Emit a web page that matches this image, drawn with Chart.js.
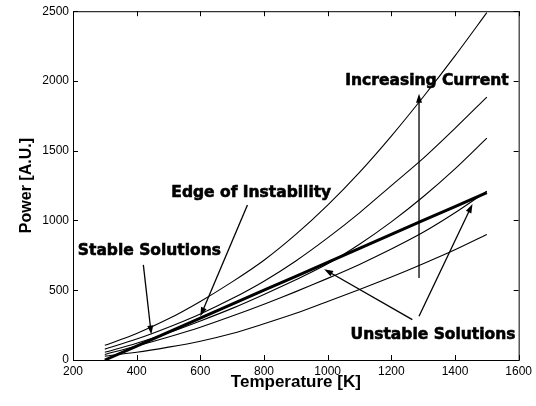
<!DOCTYPE html>
<html>
<head>
<meta charset="utf-8">
<script src="https://cdn.jsdelivr.net/npm/chart.js@4/dist/chart.umd.min.js"></script>
<style>
  html, body { margin: 0; padding: 0; background: #fff; }
</style>
</head>
<body>
<canvas id="chart" width="536" height="406"></canvas>
<script>
// values (temperature in K, power in A.U.)
const temperature = [300, 400, 500, 600, 700, 800, 900, 1000, 1100, 1200, 1300, 1400, 1500];
const current1 = [105, 190, 295, 420, 560, 715, 900, 1110, 1345, 1605, 1885, 2180, 2490];
const current2 = [78, 150, 235, 330, 440, 565, 710, 875, 1055, 1250, 1445, 1660, 1884];
const current3 = [55, 120, 195, 280, 370, 470, 575, 690, 830, 990, 1170, 1370, 1590];
const current4 = [40, 100, 165, 235, 315, 400, 490, 585, 685, 795, 915, 1055, 1210];
const current5 = [28, 55, 92, 135, 190, 260, 335, 420, 505, 595, 690, 790, 900];
const edgeOfInstability = [0, 100, 200, 300, 400, 500, 600, 700, 800, 900, 1000, 1100, 1200];

const xTickValues = [200, 400, 600, 800, 1000, 1200, 1400, 1600];
const yTickValues = [0, 500, 1000, 1500, 2000, 2500];

// annotation text (centre, data units) and arrows (from -> to, data units)
const notes = [
  { text: 'Increasing Current', x: 1312, y: 2000 },
  { text: 'Edge of Instability', x: 760, y: 1200 },
  { text: 'Stable Solutions', x: 440, y: 784 },
  { text: 'Unstable Solutions', x: 1331, y: 182 },
];
const arrows = [
  { from: [1287, 587], to: [1287, 1909] },
  { from: [748, 1111], to: [600, 313] },
  { from: [421, 682], to: [446, 182] },
  { from: [1266, 289], to: [989, 651] },
  { from: [1287, 313], to: [1455, 1118] },
];

const toPoints = (ys) => temperature.map((t, i) => ({ x: t, y: ys[i] }));

const thin = (ys) => ({
  data: toPoints(ys),
  borderColor: '#000',
  borderWidth: 1.1,
  pointRadius: 0,
  tension: 0.3,
});

// inward ticks on all four sides + box, like the original plot
const boxTicks = {
  id: 'boxTicks',
  afterDraw(chart) {
    const { ctx, chartArea: a, scales: { x, y } } = chart;
    const len = 5;
    ctx.save();
    ctx.strokeStyle = '#000';
    ctx.lineWidth = 1;
    ctx.strokeRect(a.left + 0.5, a.top + 0.5, a.right - a.left, a.bottom - a.top);
    ctx.beginPath();
    xTickValues.forEach((v) => {
      const px = Math.round(x.getPixelForValue(v)) + 0.5;
      ctx.moveTo(px, a.bottom); ctx.lineTo(px, a.bottom - len);
      ctx.moveTo(px, a.top); ctx.lineTo(px, a.top + len);
    });
    yTickValues.forEach((v) => {
      const py = Math.round(y.getPixelForValue(v)) + 0.5;
      ctx.moveTo(a.left, py); ctx.lineTo(a.left + len, py);
      ctx.moveTo(a.right, py); ctx.lineTo(a.right - len, py);
    });
    ctx.stroke();
    ctx.restore();
  },
};

const annotations = {
  id: 'annotations',
  afterDatasetsDraw(chart) {
    const { ctx, scales: { x, y } } = chart;
    ctx.save();
    ctx.strokeStyle = '#000';
    ctx.fillStyle = '#000';
    ctx.lineWidth = 1.3;
    arrows.forEach((ar) => {
      const x0 = x.getPixelForValue(ar.from[0]), y0 = y.getPixelForValue(ar.from[1]);
      const x1 = x.getPixelForValue(ar.to[0]), y1 = y.getPixelForValue(ar.to[1]);
      const ang = Math.atan2(y1 - y0, x1 - x0);
      const head = 9, half = 3;
      ctx.beginPath();
      ctx.moveTo(x0, y0);
      ctx.lineTo(x1 - Math.cos(ang) * head * 0.8, y1 - Math.sin(ang) * head * 0.8);
      ctx.stroke();
      ctx.beginPath();
      ctx.moveTo(x1, y1);
      ctx.lineTo(x1 - Math.cos(ang) * head - Math.sin(ang) * half, y1 - Math.sin(ang) * head + Math.cos(ang) * half);
      ctx.lineTo(x1 - Math.cos(ang) * head + Math.sin(ang) * half, y1 - Math.sin(ang) * head - Math.cos(ang) * half);
      ctx.closePath();
      ctx.fill();
    });
    ctx.font = 'bold 15.5px "DejaVu Sans"';
    ctx.textAlign = 'center';
    ctx.textBaseline = 'middle';
    ctx.lineWidth = 0.6;
    notes.forEach((n) => {
      const px = x.getPixelForValue(n.x), py = y.getPixelForValue(n.y);
      ctx.fillText(n.text, px, py);
      ctx.strokeText(n.text, px, py);
    });
    ctx.restore();
  },
};

new Chart(document.getElementById('chart'), {
  type: 'line',
  data: {
    datasets: [
      thin(current1),
      thin(current2),
      thin(current3),
      thin(current4),
      thin(current5),
      {
        data: toPoints(edgeOfInstability),
        borderColor: '#000',
        borderWidth: 3,
        pointRadius: 0,
        tension: 0,
      },
    ],
  },
  options: {
    responsive: false,
    animation: false,
    devicePixelRatio: 1,
    layout: { padding: { top: 11, right: 17, left: 0, bottom: 0 } },
    plugins: { legend: { display: false }, tooltip: { enabled: false } },
    scales: {
      x: {
        type: 'linear',
        min: 200,
        max: 1600,
        afterBuildTicks: (s) => { s.ticks = xTickValues.map((v) => ({ value: v })); },
        afterFit: (s) => { s.height = 46; },
        grid: { display: false, drawTicks: false },
        border: { display: false },
        ticks: {
          color: '#000',
          padding: 4,
          maxRotation: 0,
          font: { family: 'Liberation Sans', size: 12 },
          callback: (v) => String(v),
        },
        title: {
          display: true,
          text: 'Temperature [K]',
          color: '#000',
          font: { family: 'Liberation Sans', size: 17, weight: 'bold' },
          padding: { top: 0, bottom: 13 },
        },
      },
      y: {
        min: 0,
        max: 2500,
        afterBuildTicks: (s) => { s.ticks = yTickValues.map((v) => ({ value: v })); },
        afterFit: (s) => { s.width = 73; },
        grid: { display: false, drawTicks: false },
        border: { display: false },
        ticks: {
          color: '#000',
          padding: 4,
          font: { family: 'Liberation Sans', size: 12 },
          callback: (v) => String(v),
        },
        title: {
          display: true,
          text: 'Power [A.U.]',
          color: '#000',
          font: { family: 'Liberation Sans', size: 16, weight: 'bold' },
          padding: { top: 17, bottom: 0 },
        },
      },
    },
  },
  plugins: [boxTicks, annotations],
});
</script>
</body>
</html>
